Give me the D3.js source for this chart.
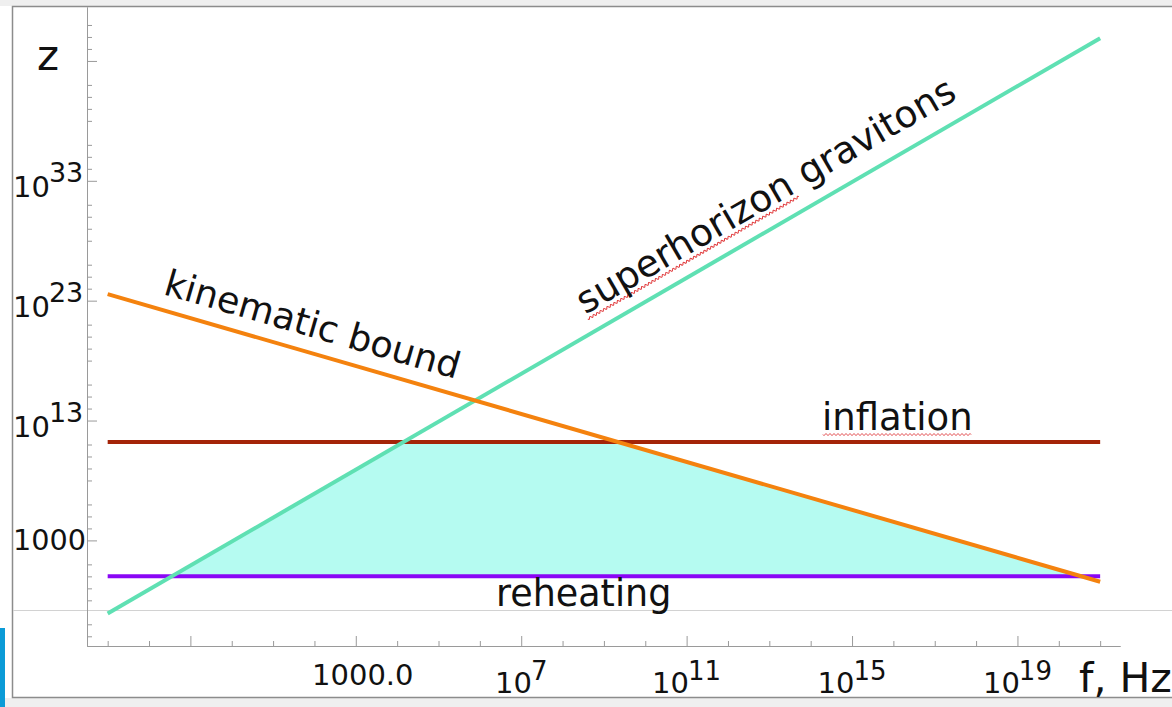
<!DOCTYPE html>
<html>
<head>
<meta charset="utf-8">
<script src="https://cdn.jsdelivr.net/npm/d3@7"></script>
<style>
  html, body { margin: 0; padding: 0; background: #ffffff; }
  svg { display: block; font-family: "DejaVu Sans", sans-serif; }
</style>
</head>
<body>
<svg id="chart" width="1172" height="707"></svg>
<script>
// Frequency span covered by every curve (Hz)
const freqEnds = [1e-3, 1e21];
// Redshift z at the two frequency ends of each curve
const superhorizonZ = [Math.pow(10, -3.1), Math.pow(10, 44.9)];
const kinematicZ    = [Math.pow(10, 23.55), Math.pow(10, -0.45)];
const inflationZ    = [1.6e11, 1.6e11];
const reheatingZ    = [1, 1];

// Axis ticks and labels
const xMajorExp = [-1, 3, 7, 11, 15, 19];
const xTickLabels = [
  { exp: 3,  base: "1000.0", sup: null },
  { exp: 7,  base: "10", sup: "7" },
  { exp: 11, base: "10", sup: "11" },
  { exp: 15, base: "10", sup: "15" },
  { exp: 19, base: "10", sup: "19" }
];
const yMajorExp = [3, 13, 23, 33, 43];
const yTickLabels = [
  { exp: 3,  base: "1000", sup: null },
  { exp: 13, base: "10", sup: "13" },
  { exp: 23, base: "10", sup: "23" },
  { exp: 33, base: "10", sup: "33" }
];

const colors = {
  superhorizon: "#5fe0b3",
  kinematic: "#f4820e",
  inflation: "#a42408",
  reheating: "#8a06f5",
  fill: "#b5fbf1",
  axis: "#9a9a9a"
};

const svg = d3.select("#chart");

// page surroundings
svg.append("rect").attr("x", 0).attr("y", 0).attr("width", 1172).attr("height", 707).attr("fill", "#ffffff");
svg.append("rect").attr("x", 0).attr("y", 0).attr("width", 1172).attr("height", 6).attr("fill", "#efefef");
svg.append("rect").attr("x", 0).attr("y", 698).attr("width", 1172).attr("height", 9).attr("fill", "#efefef");
svg.append("path")
  .attr("d", "M1172,6.5 H12.5 V697.5 H1172")
  .attr("fill", "none").attr("stroke", "#8c8c8c").attr("stroke-width", 1.5);
svg.append("rect").attr("x", 0).attr("y", 628).attr("width", 5).attr("height", 79).attr("fill", "#0b9bd7");
svg.append("line").attr("x1", 13).attr("x2", 1172).attr("y1", 610.5).attr("y2", 610.5)
  .attr("stroke", "#d2d2d2").attr("stroke-width", 1);

// scales
const x = d3.scaleLog().domain([Math.pow(10, -3.5), Math.pow(10, 21.48)]).range([87, 1120]);
const y = d3.scaleLog().domain([Math.pow(10, -5.81), Math.pow(10, 47.5)]).range([646, 7]);

// axes
const xMinor = d3.range(-3, 22).filter(e => !xMajorExp.includes(e)).map(e => Math.pow(10, e));
const xMajor = xMajorExp.map(e => Math.pow(10, e));
const yMinor = d3.range(-5, 48)
  .filter(e => !yMajorExp.includes(e) && ((e % 5) + 5) % 5 !== 2)
  .map(e => Math.pow(10, e));
const yMajor = yMajorExp.map(e => Math.pow(10, e));

function styleAxis(g) {
  g.selectAll("path.domain").attr("stroke", colors.axis).attr("stroke-width", 1);
  g.selectAll(".tick line").attr("stroke", colors.axis).attr("stroke-width", 1);
  g.selectAll(".tick text").remove();
}

svg.append("g").attr("transform", "translate(0,646)")
  .call(d3.axisTop(x).tickValues(xMinor).tickSize(5).tickSizeOuter(0).tickFormat(""))
  .call(styleAxis);
svg.append("g").attr("transform", "translate(0,646)")
  .call(d3.axisTop(x).tickValues(xMajor).tickSize(10).tickSizeOuter(0).tickFormat(""))
  .call(styleAxis);
svg.append("g").attr("transform", "translate(87,0)")
  .call(d3.axisRight(y).tickValues(yMinor).tickSize(5).tickSizeOuter(0).tickFormat(""))
  .call(styleAxis);
svg.append("g").attr("transform", "translate(87,0)")
  .call(d3.axisRight(y).tickValues(yMajor).tickSize(10).tickSizeOuter(0).tickFormat(""))
  .call(styleAxis);

// tick labels
const xLab = svg.append("g").attr("fill", "#111");
xTickLabels.forEach(d => {
  const px = x(Math.pow(10, d.exp));
  if (d.sup === null) {
    xLab.append("text").attr("x", px + 7).attr("y", 685)
      .attr("text-anchor", "middle").attr("font-size", 29).text(d.base);
  } else {
    const t = xLab.append("text").attr("x", px).attr("y", 693)
      .attr("text-anchor", "middle").attr("font-size", 29);
    t.append("tspan").text(d.base);
    t.append("tspan").attr("dx", -1).attr("dy", -13).attr("font-size", 26).text(d.sup);
  }
});

const yLab = svg.append("g").attr("fill", "#111");
yTickLabels.forEach(d => {
  const py = y(Math.pow(10, d.exp));
  if (d.sup === null) {
    yLab.append("text").attr("x", 13).attr("y", py + 9.5)
      .attr("font-size", 28.7).text(d.base);
  } else {
    const t = yLab.append("text").attr("x", 13).attr("y", py + 16).attr("font-size", 29);
    t.append("tspan").text(d.base);
    t.append("tspan").attr("dx", -1).attr("dy", -15).attr("font-size", 27).text(d.sup);
  }
});

// axis titles
svg.append("text").attr("x", 37).attr("y", 70).attr("font-size", 42).attr("fill", "#111").text("z");
svg.append("text").attr("x", 1079).attr("y", 692).attr("font-size", 41).attr("fill", "#111").text("f, Hz");

// straight lines in log-log space: log z = a + b log f
function logLine(zs) {
  const l0 = Math.log10(freqEnds[0]), l1 = Math.log10(freqEnds[1]);
  const b = (Math.log10(zs[1]) - Math.log10(zs[0])) / (l1 - l0);
  return { a: Math.log10(zs[0]) - b * l0, b: b };
}
function meet(p, q) {
  const L = (q.a - p.a) / (p.b - q.b);
  return [Math.pow(10, L), Math.pow(10, p.a + p.b * L)];
}
const sh = logLine(superhorizonZ), kin = logLine(kinematicZ);
const inf = logLine(inflationZ), reh = logLine(reheatingZ);

// allowed region: above reheating, below inflation, right of superhorizon, left of kinematic bound
const region = [meet(sh, reh), meet(sh, inf), meet(kin, inf), meet(kin, reh)];
const line = d3.line().x(d => x(d[0])).y(d => y(d[1]));
svg.append("path").attr("d", line(region) + "Z").attr("fill", colors.fill);

function curve(zs, color) {
  svg.append("path")
    .attr("d", line(freqEnds.map((f, i) => [f, zs[i]])))
    .attr("fill", "none").attr("stroke", color).attr("stroke-width", 4);
}
curve(inflationZ, colors.inflation);
curve(reheatingZ, colors.reheating);
curve(superhorizonZ, colors.superhorizon);
curve(kinematicZ, colors.kinematic);

// wavy spell-check style underline
function wavy(len) {
  let d = "M0,0";
  for (let s = 0; s < len; s += 4) d += " q1,2 2,0 t2,0";
  return d;
}
function slope(zs) {
  const p0 = [x(freqEnds[0]), y(zs[0])], p1 = [x(freqEnds[1]), y(zs[1])];
  return Math.atan2(p1[1] - p0[1], p1[0] - p0[0]) * 180 / Math.PI;
}

// curve labels
const labelSize = 36.5;
{
  const L = 8.55;
  const px = x(Math.pow(10, L)), py = y(Math.pow(10, sh.a + sh.b * L)) - 22;
  const g = svg.append("g").attr("transform", `translate(${px},${py}) rotate(${slope(superhorizonZ)})`);
  g.append("path").attr("d", wavy(244)).attr("transform", "translate(0,5)")
    .attr("fill", "none").attr("stroke", "#e0383a").attr("stroke-width", 1);
  g.append("text").attr("font-size", 37.5).attr("fill", "#111").text("superhorizon gravitons");
}
{
  const L = -1.68;
  const px = x(Math.pow(10, L)), py = y(Math.pow(10, kin.a + kin.b * L)) - 16;
  const g = svg.append("g").attr("transform", `translate(${px},${py}) rotate(${slope(kinematicZ)})`);
  g.append("text").attr("font-size", labelSize).attr("fill", "#111").text("kinematic bound");
}
{
  const py = y(inflationZ[0]) - 12.5;
  svg.append("path").attr("d", wavy(148)).attr("transform", `translate(823,${py + 5})`)
    .attr("fill", "none").attr("stroke", "#e0383a").attr("stroke-width", 1);
  svg.append("text").attr("x", 822).attr("y", py).attr("font-size", 37)
    .attr("fill", "#111").text("inflation");
}
{
  const py = y(reheatingZ[0]) + 29.5;
  svg.append("text").attr("x", 496).attr("y", py).attr("font-size", labelSize)
    .attr("fill", "#111").text("reheating");
}
</script>
</body>
</html>
